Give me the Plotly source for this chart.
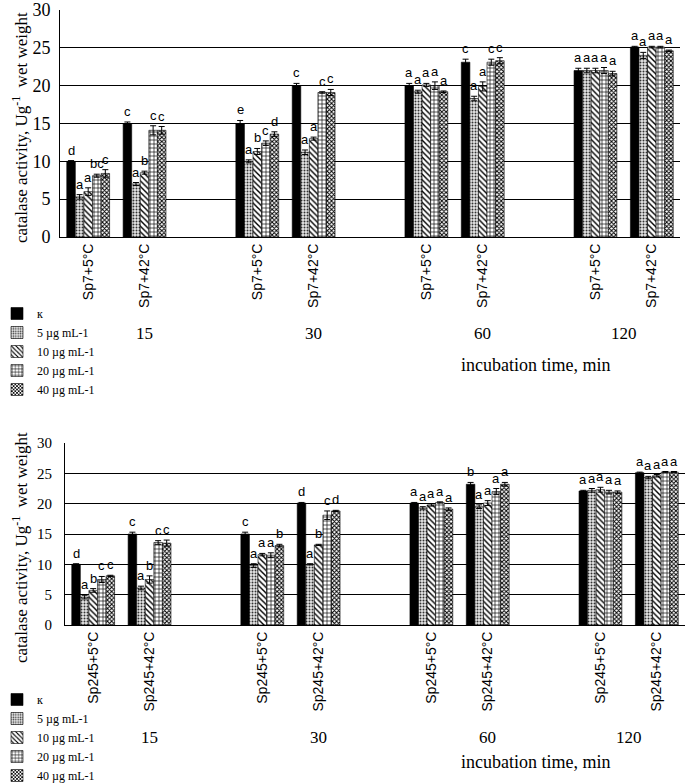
import plotly.graph_objects as go

W, H = 685, 784

times = ["15", "30", "60", "120"]
conds_top = ["Sp7+5°C", "Sp7+42°C"]
conds_bot = ["Sp245+5°C", "Sp245+42°C"]
series = ["к", "5 µg mL-1", "10 µg mL-1", "20 µg mL-1", "40 µg mL-1"]

# order: 15/5°C, 15/42°C, 30/5°C, 30/42°C, 60/5°C, 60/42°C, 120/5°C, 120/42°C
sp7_k = [10.0, 15.0, 15.0, 20.0, 20.0, 23.1, 22.0, 25.1]
sp7_5 = [5.3, 7.0, 10.0, 11.2, 19.2, 18.3, 22.0, 24.0]
sp7_10 = [6.0, 8.5, 11.3, 13.0, 20.1, 19.9, 22.0, 25.1]
sp7_20 = [8.1, 14.1, 12.4, 19.1, 20.0, 23.1, 22.0, 25.1]
sp7_40 = [8.4, 14.1, 13.6, 19.1, 19.2, 23.3, 21.6, 24.6]

sp7_k_err = [0.1, 0.2, 0.4, 0.3, 0.3, 0.4, 0.3, 0.1]
sp7_5_err = [0.3, 0.2, 0.2, 0.3, 0.2, 0.3, 0.3, 0.4]
sp7_10_err = [0.5, 0.2, 0.4, 0.2, 0.2, 0.6, 0.3, 0.1]
sp7_20_err = [0.2, 0.6, 0.3, 0.1, 0.5, 0.4, 0.4, 0.1]
sp7_40_err = [0.5, 0.5, 0.3, 0.4, 0.1, 0.4, 0.3, 0.1]

sp7_k_lab = ["d", "c", "e", "c", "a", "c", "a", "a"]
sp7_5_lab = ["a", "a", "a", "a", "a", "a", "a", "a"]
sp7_10_lab = ["a", "b", "b", "a", "a", "a", "a", "a"]
sp7_20_lab = ["bc", "c", "c", "c", "a", "c", "a", "a"]
sp7_40_lab = ["c", "c", "d", "c", "a", "c", "a", "a"]

sp245_k = [10.0, 15.0, 15.0, 20.1, 20.1, 23.2, 22.1, 25.1]
sp245_5 = [4.6, 6.1, 9.8, 10.0, 19.3, 19.5, 22.2, 24.3]
sp245_10 = [5.7, 7.5, 11.6, 13.2, 19.8, 20.1, 22.3, 24.6]
sp245_20 = [7.5, 13.6, 11.5, 18.1, 20.2, 22.0, 21.9, 25.2]
sp245_40 = [8.1, 13.5, 13.1, 18.8, 19.1, 23.2, 21.9, 25.2]

sp245_k_err = [0.1, 0.3, 0.3, 0.1, 0.1, 0.3, 0.1, 0.1]
sp245_5_err = [0.3, 0.3, 0.3, 0.1, 0.2, 0.3, 0.3, 0.2]
sp245_10_err = [0.3, 0.6, 0.2, 0.1, 0.2, 0.4, 0.4, 0.2]
sp245_20_err = [0.5, 0.3, 0.4, 0.7, 0.1, 0.5, 0.3, 0.1]
sp245_40_err = [0.1, 0.5, 0.2, 0.1, 0.2, 0.3, 0.2, 0.1]

sp245_k_lab = ["d", "c", "c", "d", "a", "b", "a", "a"]
sp245_5_lab = ["a", "a", "a", "a", "a", "a", "a", "a"]
sp245_10_lab = ["b", "b", "a", "b", "a", "a", "a", "a"]
sp245_20_lab = ["c", "c", "a", "c", "a", "a", "a", "a"]
sp245_40_lab = ["c", "c", "b", "d", "a", "a", "a", "a"]

top_vals = [sp7_k, sp7_5, sp7_10, sp7_20, sp7_40]
top_errs = [sp7_k_err, sp7_5_err, sp7_10_err, sp7_20_err, sp7_40_err]
top_labs = [sp7_k_lab, sp7_5_lab, sp7_10_lab, sp7_20_lab, sp7_40_lab]
bot_vals = [sp245_k, sp245_5, sp245_10, sp245_20, sp245_40]
bot_errs = [sp245_k_err, sp245_5_err, sp245_10_err, sp245_20_err, sp245_40_err]
bot_labs = [sp245_k_lab, sp245_5_lab, sp245_10_lab, sp245_20_lab, sp245_40_lab]

# slot positions: each time has two conditions, followed by an empty slot
positions = [3 * t + c for t in range(len(times)) for c in range(2)]
# time captions sit under the 42°C group, the last one centred under its pair
time_pos = [3 * t + 1 for t in range(len(times) - 1)] + [3 * (len(times) - 1) + 0.5]

patterns = [
    dict(shape="", fgcolor="black", bgcolor="black"),
    dict(shape=".", fgcolor="#333", bgcolor="#e8e8e8", size=3, solidity=0.35),
    dict(shape="\\", fgcolor="black", bgcolor="white", size=4, solidity=0.35),
    dict(shape="+", fgcolor="black", bgcolor="white", size=4, solidity=0.3),
    dict(shape="x", fgcolor="black", bgcolor="white", size=3, solidity=0.55),
]
colors = ["black", "white", "white", "white", "white"]

BARGAP = 0.24
fig = go.Figure()

serif = "Liberation Serif, Times New Roman, serif"
sans = "Liberation Sans, Arial, sans-serif"
annotations = []

def add_panel(vals, errs, labs, xa, ya, legend):
    for i, name in enumerate(series):
        fig.add_trace(go.Bar(
            x=positions, y=vals[i], name=name,
            marker=dict(color=colors[i], pattern=patterns[i],
                        line=dict(color="black", width=0.6)),
            error_y=dict(type="data", array=errs[i], color="black",
                         thickness=1, width=3),
            xaxis=xa, yaxis=ya, legend=legend,
        ))
    gw = 1 - BARGAP
    bw = gw / len(series)
    for i in range(len(series)):
        for j, p in enumerate(positions):
            annotations.append(dict(
                x=p - gw / 2 + bw * (i + 0.5), y=vals[i][j] + errs[i][j],
                xref=xa, yref=ya, text=labs[i][j], showarrow=False,
                xanchor="center", yanchor="bottom", yshift=1,
                font=dict(family=sans, size=13, color="black")))

add_panel(top_vals, top_errs, top_labs, "x", "y", "legend")
add_panel(bot_vals, bot_errs, bot_labs, "x2", "y2", "legend2")

def px_x(p):
    return p / W

def px_y(p):
    return 1 - p / H

# time labels and axis captions
for tp, tl in zip(time_pos, times):
    annotations.append(dict(x=tp, y=px_y(333), xref="x", yref="paper",
                            text=tl, showarrow=False, xanchor="center", yanchor="middle",
                            font=dict(family=serif, size=17, color="black")))
    annotations.append(dict(x=tp, y=px_y(737), xref="x2", yref="paper",
                            text=tl, showarrow=False, xanchor="center", yanchor="middle",
                            font=dict(family=serif, size=17, color="black")))
for yy in (365, 762):
    annotations.append(dict(x=px_x(535), y=px_y(yy), xref="paper", yref="paper",
                            text="incubation time, min", showarrow=False,
                            xanchor="center", yanchor="middle",
                            font=dict(family=serif, size=18, color="black")))
for yy in (128, 548):
    annotations.append(dict(x=px_x(20), y=px_y(yy), xref="paper", yref="paper",
                            text="catalase activity, Ug<sup>-1</sup>  wet weight",
                            textangle=-90, showarrow=False,
                            xanchor="center", yanchor="middle",
                            font=dict(family=serif, size=17, color="black")))

tickvals = positions
axis_common = dict(range=[-0.5, 10.5], showgrid=False, showline=True,
                   linecolor="black", linewidth=1, ticks="", tickangle=-90,
                   automargin=False, zeroline=False,
                   tickfont=dict(family=sans, size=14, color="black"),
                   tickvals=tickvals)
yaxis_common = dict(range=[0, 30], dtick=5, showgrid=True, gridcolor="black",
                    gridwidth=1, showline=True, linecolor="black", linewidth=1,
                    ticks="outside", tickcolor="white",
                    automargin=False, zeroline=False)

legend_common = dict(xanchor="left", yanchor="top",
                     font=dict(family=serif, size=12, color="black"),
                     tracegroupgap=0, itemwidth=30, bgcolor="rgba(0,0,0,0)")

fig.update_layout(
    template="none",
    width=W, height=H, margin=dict(l=0, r=0, t=0, b=0, autoexpand=False),
    plot_bgcolor="white", paper_bgcolor="white",
    barmode="group", bargap=BARGAP, bargroupgap=0,
    xaxis=dict(domain=[px_x(60), px_x(680)], anchor="y",
               ticktext=[c for _ in times for c in conds_top], **axis_common),
    yaxis=dict(domain=[px_y(237), px_y(10)], anchor="x", ticklen=5,
               tickfont=dict(family=serif, size=18, color="black"), **yaxis_common),
    xaxis2=dict(domain=[px_x(65), px_x(685)], anchor="y2",
                ticktext=[c for _ in times for c in conds_bot], **axis_common),
    yaxis2=dict(domain=[px_y(625), px_y(443)], anchor="x2", ticklen=9,
                tickfont=dict(family=serif, size=15, color="black"), **yaxis_common),
    legend=dict(x=px_x(-3), y=px_y(299), **legend_common),
    legend2=dict(x=px_x(-3), y=px_y(685), **legend_common),
    annotations=annotations,
)

# the page's default 8px body margin would shift the figure; remove it
fig.write_html("out.html", config={"displayModeBar": False},
               post_script="document.body.style.margin='0px';")
